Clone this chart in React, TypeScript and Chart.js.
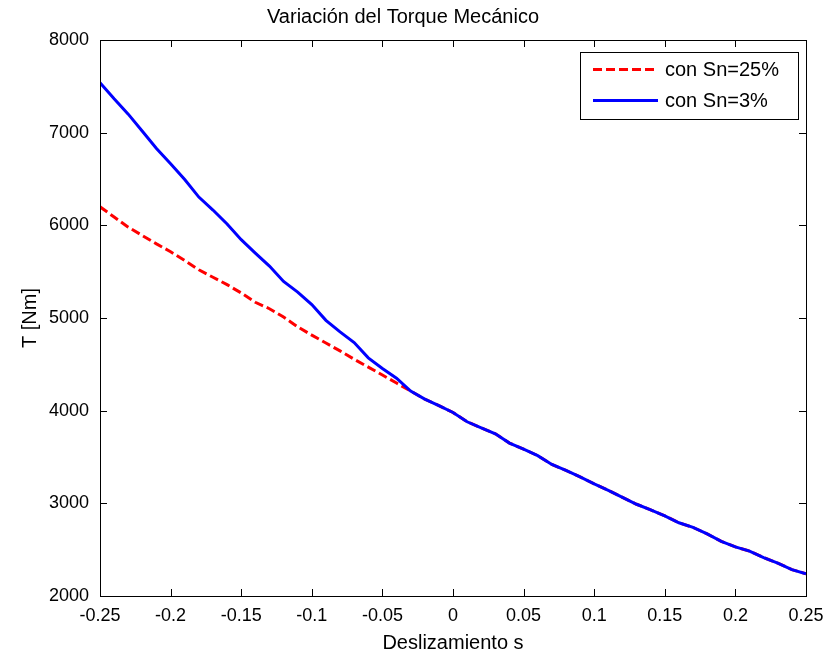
import React, { useEffect, useRef } from 'react';
import { Chart, registerables } from 'chart.js';

Chart.register(...registerables);

// ---- Data ----
const slip = [
  -0.25, -0.24, -0.23, -0.22, -0.21, -0.2, -0.19, -0.18, -0.17, -0.16, -0.15,
  -0.14, -0.13, -0.12, -0.11, -0.1, -0.09, -0.08, -0.07, -0.06, -0.05,
  -0.04, -0.03, -0.02, -0.01, 0, 0.01, 0.02, 0.03, 0.04, 0.05,
  0.06, 0.07, 0.08, 0.09, 0.1, 0.11, 0.12, 0.13, 0.14, 0.15,
  0.16, 0.17, 0.18, 0.19, 0.2, 0.21, 0.22, 0.23, 0.24, 0.25,
];

const torqueSn25 = [
  6200, 6090, 5980, 5890, 5800, 5715, 5620, 5520, 5440, 5360, 5270,
  5170, 5100, 5010, 4905, 4815, 4730, 4645, 4555, 4470, 4385,
  4298, 4212, 4125, 4055, 3980, 3880, 3815, 3750, 3650, 3585,
  3515, 3420, 3355, 3285, 3210, 3140, 3065, 2990, 2930, 2865,
  2790, 2740, 2670, 2590, 2530, 2485, 2415, 2355, 2285, 2240,
];

const torqueSn3 = [
  7540, 7365, 7200, 7015, 6830, 6665, 6495, 6305, 6165, 6015, 5845,
  5700, 5560, 5395, 5280, 5145, 4975, 4850, 4735, 4570, 4455,
  4350, 4212, 4125, 4055, 3980, 3880, 3815, 3750, 3650, 3585,
  3515, 3420, 3355, 3285, 3210, 3140, 3065, 2990, 2930, 2865,
  2790, 2740, 2670, 2590, 2530, 2485, 2415, 2355, 2285, 2240,
];

const xTicks = [-0.25, -0.2, -0.15, -0.1, -0.05, 0, 0.05, 0.1, 0.15, 0.2, 0.25];
const xTickLabels = ['-0.25', '-0.2', '-0.15', '-0.1', '-0.05', '0', '0.05', '0.1', '0.15', '0.2', '0.25'];
const yTicks = [2000, 3000, 4000, 5000, 6000, 7000, 8000];
const yTickLabels = ['2000', '3000', '4000', '5000', '6000', '7000', '8000'];

const seriesLabels = ['con Sn=25%', 'con Sn=3%'];
const chartTitle = 'Variación del Torque Mecánico';
const xTitle = 'Deslizamiento s';
const yTitle = 'T [Nm]';

const FONT = '"Liberation Sans", Arial, Helvetica, sans-serif';

const matlabBoxPlugin = {
  id: 'matlabBox',
  afterDatasetsDraw(chart: any) {
    const { ctx, chartArea } = chart;
    const { left, right, top, bottom } = chartArea;
    const xs = chart.scales.x;
    const ys = chart.scales.y;
    const tl = 7;
    ctx.save();
    ctx.strokeStyle = '#000';
    ctx.lineWidth = 1;
    ctx.beginPath();
    xTicks.forEach((v) => {
      const px = Math.round(xs.getPixelForValue(v)) + 0.5;
      ctx.moveTo(px, bottom);
      ctx.lineTo(px, bottom - tl);
      ctx.moveTo(px, top);
      ctx.lineTo(px, top + tl);
    });
    yTicks.forEach((v) => {
      const py = Math.round(ys.getPixelForValue(v)) + 0.5;
      ctx.moveTo(left, py);
      ctx.lineTo(left + tl, py);
      ctx.moveTo(right, py);
      ctx.lineTo(right - tl, py);
    });
    ctx.stroke();
    ctx.strokeRect(Math.round(left) + 0.5, Math.round(top) + 0.5, Math.round(right - left), Math.round(bottom - top));

    // Legend
    const lw = 218;
    const lh = 67;
    const lx = Math.round(right) - 8 - lw;
    const ly = Math.round(top) + 12;
    ctx.fillStyle = '#fff';
    ctx.fillRect(lx, ly, lw, lh);
    ctx.strokeRect(lx + 0.5, ly + 0.5, lw, lh);
    const items = [
      { label: seriesLabels[0], color: '#ff0000', dash: [9, 4] },
      { label: seriesLabels[1], color: '#0000ff', dash: [] as number[] },
    ];
    items.forEach((it, i) => {
      const cy = ly + 17.5 + i * 31;
      ctx.beginPath();
      ctx.setLineDash(it.dash);
      ctx.strokeStyle = it.color;
      ctx.lineWidth = 3;
      ctx.moveTo(lx + 13, cy);
      ctx.lineTo(lx + 78, cy);
      ctx.stroke();
      ctx.setLineDash([]);
      ctx.fillStyle = '#000';
      ctx.font = `20px ${FONT}`;
      ctx.textAlign = 'left';
      ctx.textBaseline = 'middle';
      ctx.fillText(it.label, lx + 85, cy + 1);
    });
    ctx.restore();
  },
};

export default function App() {
  const canvasRef = useRef<HTMLCanvasElement | null>(null);

  useEffect(() => {
    if (!canvasRef.current) return;
    const chart = new Chart(canvasRef.current, {
      type: 'line',
      data: {
        datasets: [
          {
            label: seriesLabels[0],
            data: slip.map((s, i) => ({ x: s, y: torqueSn25[i] })),
            borderColor: '#ff0000',
            borderWidth: 3,
            borderDash: [9, 4],
            pointRadius: 0,
            tension: 0,
            order: 2,
          },
          {
            label: seriesLabels[1],
            data: slip.map((s, i) => ({ x: s, y: torqueSn3[i] })),
            borderColor: '#0000ff',
            borderWidth: 3,
            pointRadius: 0,
            tension: 0,
            order: 1,
          },
        ],
      },
      options: {
        responsive: false,
        animation: false,
        devicePixelRatio: 1,
        layout: { padding: { left: 0, right: 27, top: 0, bottom: 0 } },
        plugins: {
          legend: { display: false },
          tooltip: { enabled: false },
          title: {
            display: true,
            text: chartTitle,
            color: '#000',
            font: { family: FONT, size: 20, weight: 'normal', lineHeight: 1.2 },
            padding: { top: 5, bottom: 11 },
          },
        },
        scales: {
          x: {
            type: 'linear',
            min: -0.25,
            max: 0.25,
            afterBuildTicks: (scale: any) => {
              scale.ticks = xTicks.map((v) => ({ value: v }));
            },
            afterFit: (scale: any) => {
              scale.height = 61;
            },
            grid: { display: false, drawTicks: false },
            border: { display: false },
            ticks: {
              color: '#000',
              font: { family: FONT, size: 18 },
              padding: 9,
              maxRotation: 0,
              autoSkip: false,
              callback: (_v: any, i: number) => xTickLabels[i],
            },
            title: {
              display: true,
              text: xTitle,
              color: '#000',
              font: { family: FONT, size: 20, lineHeight: 1.2 },
              padding: { top: 0, bottom: 2 },
            },
          },
          y: {
            type: 'linear',
            min: 2000,
            max: 8000,
            afterBuildTicks: (scale: any) => {
              scale.ticks = yTicks.map((v) => ({ value: v }));
            },
            afterFit: (scale: any) => {
              scale.width = 100;
            },
            grid: { display: false, drawTicks: false },
            border: { display: false },
            ticks: {
              color: '#000',
              font: { family: FONT, size: 18 },
              padding: 11,
              autoSkip: false,
              callback: (_v: any, i: number) => yTickLabels[i],
            },
            title: {
              display: true,
              text: yTitle,
              color: '#000',
              font: { family: FONT, size: 20, lineHeight: 1.2 },
              padding: { top: 18, bottom: 0 },
            },
          },
        },
      },
      plugins: [matlabBoxPlugin],
    } as any);
    return () => chart.destroy();
  }, []);

  return (
    <div style={{ position: 'absolute', left: 0, top: 0, width: 833, height: 657, background: '#fff' }}>
      <canvas ref={canvasRef} width={833} height={657} style={{ display: 'block', width: 833, height: 657 }} />
    </div>
  );
}
